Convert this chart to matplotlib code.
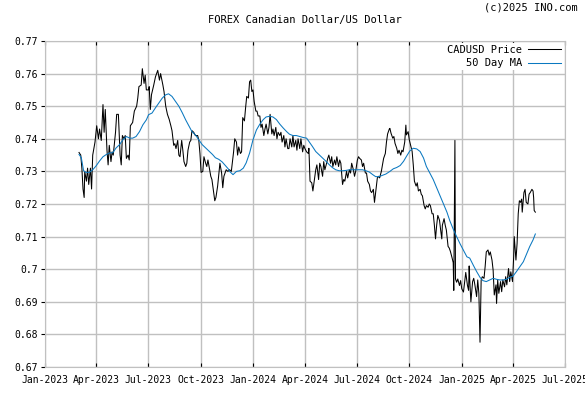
import pandas as pd
import matplotlib.pyplot as plt
import matplotlib.dates as mdates

# CADUSD precio diario, dias contados desde 2023-01-01
price_day = [60, 63, 65, 67, 69, 70, 73, 75, 77, 80, 82, 84, 88, 91, 94, 96, 99, 102, 104, 106,
             109, 111, 113, 116, 118, 120, 124, 126, 129, 132, 134, 136, 139, 141, 143, 146, 148, 150,
             154, 157, 161, 163, 165, 169, 171, 174, 176, 178, 182,
             183, 185, 187, 191, 194, 198, 201, 203, 207, 209, 212, 215, 218, 221, 223, 226, 228, 230,
             233, 235, 237, 240, 242, 244, 247, 249, 251, 254, 256, 258, 261, 264, 268, 270, 272, 274,
             277, 279, 282, 284, 286, 289, 291, 293, 296, 298, 300, 303, 305, 307, 310, 312, 314, 318, 321,
             324, 327, 329, 331, 333, 336, 338, 340, 343, 345, 347, 350, 352, 354, 357, 359, 361, 363,
             365, 367, 370, 372, 374, 377, 379, 381, 384, 386, 388, 391, 393, 395, 398, 400, 402, 405,
             407, 409, 412, 414, 416, 419, 421, 423, 426, 428, 430, 433, 435, 437, 440, 442, 444, 447,
             449, 452, 454, 456, 459, 462,
             463, 465, 468, 470, 473, 475, 477, 480, 482, 484, 487, 489, 491, 494, 496, 498, 501, 503,
             505, 508, 510, 512, 515, 517, 519, 522, 524, 526, 529, 531, 534, 536, 538, 541, 543, 545,
             548, 550, 552, 555, 557, 559, 562, 564, 566, 569, 571, 573, 576, 578, 580, 583, 585, 587,
             590, 592, 594, 597, 599, 601, 604,
             605, 607, 610, 612, 614, 617, 619, 621, 624, 626, 628, 631, 633, 634, 637, 639, 641, 644,
             646, 648, 651, 653, 655, 658, 660, 662, 665, 667, 669, 672, 674, 676, 679, 681, 683, 685,
             687, 689, 692, 694, 696, 697, 700, 702, 704, 707, 709, 711, 714, 716, 717, 719, 720, 722,
             724, 727, 729, 731, 734, 736, 738, 741, 743, 744,
             745, 747, 750, 752, 754, 757, 759, 761, 763, 765, 767, 770, 772, 774, 777, 779, 781, 784,
             786, 788, 791, 792, 794, 796, 799, 801, 803, 806, 808, 810, 813, 815, 817, 820, 822, 823,
             826, 828, 830, 832, 834, 836, 837, 840, 842, 844, 847, 849, 851, 854, 856, 857, 858, 860]
price = [.7358, .735, .731, .7246, .722, .730, .727, .731, .726, .731, .7246, .735, .739, .744, .740, .743, .7395, .7505, .742, .749,
         .7365, .732, .738, .733, .736, .735, .742, .7475, .7475, .735, .732, .741, .740, .741, .734, .735, .7335, .744,
         .745, .7485, .750, .7525, .756, .7565, .7615, .757, .7595, .755, .755,
         .756, .749, .7535, .7565, .759, .761, .758, .760, .7565, .7545, .750, .7475, .746, .744, .7425, .738, .7385, .737,
         .7395, .735, .7345, .7395, .7365, .733, .7315, .7325, .7365, .739, .7395, .7425, .742, .741, .741, .7395, .7355, .7297,
         .730, .7345, .7325, .7315, .7335, .7305, .7285, .7275, .7235, .721, .722, .7255, .729, .7325, .7295, .725, .7285, .7305, .730,
         .7305, .730, .733, .736, .740, .739, .735, .7375, .7355, .736, .7465, .7455, .7495, .753, .7525, .7575, .758, .7545,
         .755, .7515, .7485, .7485, .747, .747, .7435, .7445, .741, .743, .7445, .7415, .7435, .7475, .7415, .743, .741, .7435,
         .740, .742, .741, .742, .739, .741, .7375, .740, .737, .737, .740, .7375, .741, .7375, .7395, .7365, .740, .737,
         .740, .736, .738, .737, .736, .7355,
         .7371, .727, .7265, .724, .728, .7305, .732, .7275, .7325, .7315, .7285, .733, .7305, .7325, .734, .735, .7325, .7345,
         .7315, .7335, .732, .7345, .7315, .7335, .7325, .726, .7275, .727, .730, .728, .7305, .7295, .7325, .7305, .7285, .730,
         .7335, .7345, .734, .7335, .7315, .7325, .7295, .7295, .727, .726, .724, .7235, .7245, .7205, .7235, .728, .7285, .728,
         .730, .732, .734, .7355, .739, .7415, .743,
         .7432, .7417, .7402, .7407, .7386, .7371, .7355, .7365, .735, .7365, .736, .739, .7442, .7412, .7422, .7397, .7382, .7361,
         .732, .727, .7255, .7265, .724, .7245, .723, .7225, .7195, .7185, .7195, .719, .720, .7195, .717, .717, .7135, .7093,
         .7135, .7165, .715, .712, .7093, .7135, .7155, .7135, .712, .707, .7065, .7055, .7035, .702, .6935, .7395, .697, .696,
         .697, .695, .6965, .694, .693, .696, .699, .695, .6935, .701,
         .6967, .690, .6962, .6972, .6952, .6916, .6967, .6926, .6776, .6967, .6977, .6972, .7008, .7053, .7059, .7043, .7053, .7028,
         .6997, .6921, .6952, .6895, .6967, .6926, .6962, .6931, .6967, .6946, .6977, .6952, .7002, .6962, .6992, .6962, .7038, .710,
         .7028, .7079, .717, .721, .7205, .7215, .7175, .7235, .7245, .7205, .720, .723, .7235, .7245, .724, .722, .718, .7175]

# media movel de 50 dias
ma_day = [60, 64, 68, 72, 78, 84, 90, 96, 102, 108, 114, 119, 125, 131, 137, 143, 149, 154, 160, 166, 172, 178,
          182, 188, 194, 200, 206, 212, 217, 223, 229, 235, 241, 247, 253, 258, 264, 270, 276, 282, 288, 294, 299,
          305, 311, 317, 322, 324, 330, 336, 342, 348, 353, 359, 365, 371, 377, 383, 388, 394, 400, 406, 412, 418,
          424, 429, 435, 441, 447, 453, 459, 463, 469, 475, 481, 487, 493, 499, 504, 510, 516, 522, 528, 534, 539,
          545, 551, 557, 563, 569, 575, 580, 586, 592, 598, 605, 611, 617, 623, 629, 634, 640, 646, 652, 658, 664,
          669, 675, 681, 687, 693, 699, 705, 710, 716, 722, 728, 734, 740, 745, 751, 757, 763, 768, 774, 780, 786,
          792, 798, 804, 809, 815, 821, 827, 833, 839, 844, 850, 856, 860]
ma = [.7352, .7342, .7302, .7297, .7297, .7305, .7317, .7332, .7345, .7352, .7357, .7357, .7372, .7382, .7397, .7407,
      .7402, .7402, .7407, .7422, .7443, .7458, .7474, .7479, .7495, .751, .7525, .7535, .7538, .753, .7515, .750,
      .748, .7458, .7438, .7422, .7412, .7397, .7382, .7372, .7362, .7352, .7342, .7337, .7329, .7317, .7307, .730,
      .729, .730, .7302, .731, .7326, .7356, .7397, .7427, .7445, .7459, .7467, .7469, .7467, .7459, .7445, .7433,
      .7422, .7414, .741, .741, .7407, .7404, .7402, .7392, .7377, .7361, .7351, .7341, .7331, .732, .7312, .7305,
      .7302, .7302, .7303, .7305, .7305, .7305, .7305, .7305, .7302, .7298, .729, .7284, .7284, .7288, .7292, .730,
      .7308, .7312, .7318, .7331, .7346, .7363, .7371, .7369, .7361, .7341, .7315, .7295, .7275, .725, .7225, .720,
      .7175, .7149, .7123, .710, .7078, .7058, .7038, .7034, .7013, .6993, .6975, .6965, .6962, .6967, .6972, .6969,
      .6967, .6967, .6969, .6975, .6979, .6993, .7008, .7023, .7044, .7069, .709, .7108]

y_ticks = [0.67, 0.68, 0.69, 0.70, 0.71, 0.72, 0.73, 0.74, 0.75, 0.76, 0.77]
x_ticks = pd.date_range('2023-01-01', '2025-07-01', freq='QS')

base = pd.Timestamp('2023-01-01')
datas = base + pd.to_timedelta(price_day, unit='D')
datas_ma = base + pd.to_timedelta(ma_day, unit='D')

plt.rcParams['font.family'] = 'DejaVu Sans Mono'
plt.rcParams['font.size'] = 7

fig = plt.figure(figsize=(5.85, 3.94), dpi=100)
ax = fig.add_axes([44.8 / 585, 1 - 367 / 394, (565 - 44.8) / 585, (367 - 41) / 394])

ax.plot(datas, price, color='black', linewidth=0.75, label='CADUSD Price')
ax.plot(datas_ma, ma, color='#0a78c0', linewidth=0.75, label='50 Day MA')

ax.set_xlim(pd.Timestamp('2023-01-01'), pd.Timestamp('2025-07-01'))
ax.set_ylim(0.67, 0.77)
ax.set_xticks(x_ticks)
ax.xaxis.set_major_formatter(mdates.DateFormatter('%b-%Y'))
ax.set_yticks(y_ticks)
ax.set_yticklabels(['%g' % v for v in y_ticks])

ax.grid(True, color='#c0c0c0', linewidth=1)
ax.set_axisbelow(True)
for s in ax.spines.values():
    s.set_color('#c0c0c0')
ax.tick_params(axis='x', direction='in', length=3, color='black', top=True, pad=6)
ax.tick_params(axis='y', direction='out', length=3, color='black', right=False, pad=2)

leg = ax.legend(loc='upper right', markerfirst=False, frameon=True, framealpha=1,
                edgecolor='none', fancybox=False, handlelength=3.2, borderaxespad=0.2,
                borderpad=0.15, labelspacing=0.35, handletextpad=0.6, fontsize=7.5)

fig.text(305 / 585, 1 - 20 / 394, 'FOREX Canadian Dollar/US Dollar', ha='center', va='center', fontsize=7.5)
fig.text(578 / 585, 1 - 8 / 394, '(c)2025 INO.com', ha='right', va='center', fontsize=7.5)

fig.savefig('out.png', dpi=100)
